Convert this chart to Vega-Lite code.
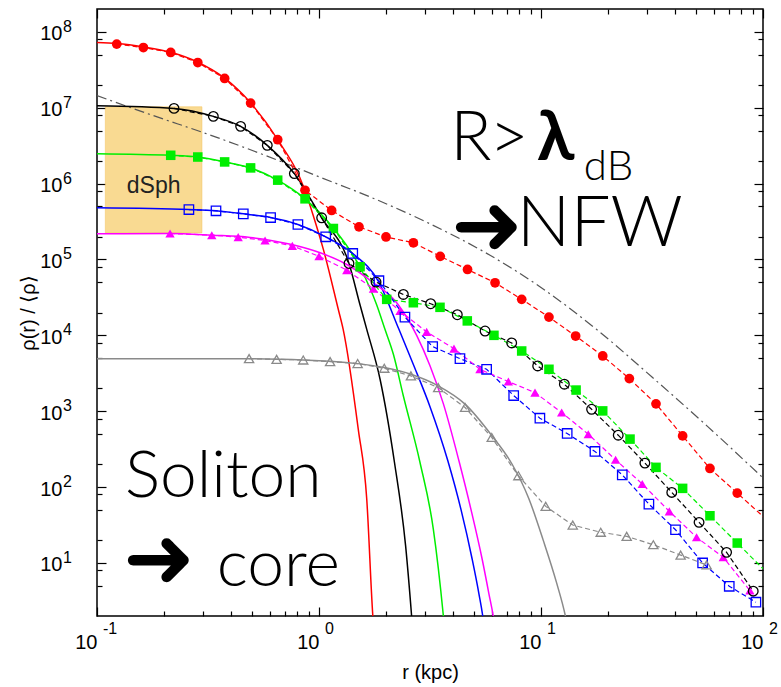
{
  "$schema": "https://vega.github.io/schema/vega-lite/v6.json",
  "width": 666,
  "height": 607,
  "autosize": {"type": "none"},
  "padding": {"left": 97, "top": 9, "right": 18, "bottom": 71},
  "background": "white",
  "config": {
    "view": {"stroke": "#000000", "strokeWidth": 1.5},
    "axis": {"grid": false, "domain": false, "tickColor": "#000000", "tickWidth": 1.2, "labelColor": "#000000", "titleColor": "#000000", "labelFont": "Liberation Sans", "titleFont": "Liberation Sans", "titleFontWeight": "normal"}
  },
  "datasets": {
    "pts": [
      {"s":"h1","r":0.1227,"rho":6.89e7},{"s":"h1","r":0.1618,"rho":6.21e7},{"s":"h1","r":0.2148,"rho":5.35e7},{"s":"h1","r":0.2844,"rho":3.94e7},{"s":"h1","r":0.3758,"rho":2.43e7},{"s":"h1","r":0.492,"rho":1.15e7},{"s":"h1","r":0.6516,"rho":3.79e6},{"s":"h1","r":0.865,"rho":8.17e5},{"s":"h1","r":1.14,"rho":4.42e5},{"s":"h1","r":1.514,"rho":2.69e5},{"s":"h1","r":2.004,"rho":1.98e5},{"s":"h1","r":2.661,"rho":1.66e5},{"s":"h1","r":3.516,"rho":1.10e5},{"s":"h1","r":4.667,"rho":7.38e4},{"s":"h1","r":6.209,"rho":4.93e4},{"s":"h1","r":8.185,"rho":2.98e4},{"s":"h1","r":10.86,"rho":1.74e4},{"s":"h1","r":14.32,"rho":9.8e3},{"s":"h1","r":18.97,"rho":5.35e3},{"s":"h1","r":25.0,"rho":2.69e3},{"s":"h1","r":32.96,"rho":1.25e3},{"s":"h1","r":43.45,"rho":473},{"s":"h1","r":57.68,"rho":176},{"s":"h1","r":76.56,"rho":83.4},{"s":"h1","r":109.9,"rho":32.1},
      {"s":"h2","r":0.2223,"rho":9.8e6},{"s":"h2","r":0.3342,"rho":7.69e6},{"s":"h2","r":0.4436,"rho":5.68e6},{"s":"h2","r":0.5848,"rho":3.19e6},{"s":"h2","r":0.7745,"rho":1.355e6},{"s":"h2","r":1.028,"rho":3.54e5},{"s":"h2","r":1.365,"rho":8.85e4},{"s":"h2","r":1.807,"rho":5.04e4},{"s":"h2","r":2.399,"rho":3.46e4},{"s":"h2","r":3.184,"rho":2.61e4},{"s":"h2","r":4.198,"rho":1.87e4},{"s":"h2","r":5.598,"rho":1.14e4},{"s":"h2","r":7.379,"rho":7.94e3},{"s":"h2","r":9.661,"rho":3.95e3},{"s":"h2","r":12.74,"rho":2.27e3},{"s":"h2","r":16.9,"rho":1.06e3},{"s":"h2","r":22.28,"rho":483},{"s":"h2","r":29.38,"rho":207},{"s":"h2","r":38.82,"rho":85.1},{"s":"h2","r":51.52,"rho":34.3},{"s":"h2","r":68.55,"rho":13.8},{"s":"h2","r":90.36,"rho":4.25},
      {"s":"h3","r":0.2148,"rho":2.36e6},{"s":"h3","r":0.2844,"rho":2.24e6},{"s":"h3","r":0.3758,"rho":1.93e6},{"s":"h3","r":0.492,"rho":1.61e6},{"s":"h3","r":0.6516,"rho":1.11e6},{"s":"h3","r":0.865,"rho":6.3e5},{"s":"h3","r":1.161,"rho":2.56e5},{"s":"h3","r":1.531,"rho":8.02e4},{"s":"h3","r":2.018,"rho":2.98e4},{"s":"h3","r":2.661,"rho":2.69e4},{"s":"h3","r":3.508,"rho":2.34e4},{"s":"h3","r":4.656,"rho":1.55e4},{"s":"h3","r":6.138,"rho":1.0e4},{"s":"h3","r":8.185,"rho":6.22e3},{"s":"h3","r":10.86,"rho":3.57e3},{"s":"h3","r":14.39,"rho":1.9e3},{"s":"h3","r":18.97,"rho":1.01e3},{"s":"h3","r":25.18,"rho":429},{"s":"h3","r":32.96,"rho":182},{"s":"h3","r":43.45,"rho":96.2},{"s":"h3","r":57.68,"rho":41.9},{"s":"h3","r":76.56,"rho":18.3},{"s":"h3","r":109.9,"rho":6.38},
      {"s":"h4","r":0.2594,"rho":4.55e5},{"s":"h4","r":0.3436,"rho":4.38e5},{"s":"h4","r":0.456,"rho":3.99e5},{"s":"h4","r":0.6053,"rho":3.57e5},{"s":"h4","r":0.8035,"rho":2.89e5},{"s":"h4","r":1.072,"rho":1.99e5},{"s":"h4","r":1.419,"rho":1.2e5},{"s":"h4","r":1.862,"rho":5.25e4},{"s":"h4","r":2.438,"rho":1.74e4},{"s":"h4","r":3.251,"rho":7.1e3},{"s":"h4","r":4.315,"rho":4.93e3},{"s":"h4","r":5.689,"rho":3.57e3},{"s":"h4","r":7.534,"rho":1.61e3},{"s":"h4","r":9.886,"rho":809},{"s":"h4","r":13.12,"rho":509},{"s":"h4","r":17.5,"rho":295},{"s":"h4","r":23.23,"rho":145},{"s":"h4","r":30.62,"rho":59.7},{"s":"h4","r":40.36,"rho":27.4},{"s":"h4","r":53.46,"rho":10.0},{"s":"h4","r":70.47,"rho":4.93},{"s":"h4","r":92.9,"rho":3.04},
      {"s":"h5","r":0.2133,"rho":2.2e5},{"s":"h5","r":0.3289,"rho":2.09e5},{"s":"h5","r":0.4325,"rho":1.97e5},{"s":"h5","r":0.5715,"rho":1.78e5},{"s":"h5","r":0.7586,"rho":1.51e5},{"s":"h5","r":1.0,"rho":1.1e5},{"s":"h5","r":1.334,"rho":7.24e4},{"s":"h5","r":1.758,"rho":4.11e4},{"s":"h5","r":2.317,"rho":2.09e4},{"s":"h5","r":3.055,"rho":1.11e4},{"s":"h5","r":4.055,"rho":6.68e3},{"s":"h5","r":5.309,"rho":3.57e3},{"s":"h5","r":7.129,"rho":2.46e3},{"s":"h5","r":9.397,"rho":1.76e3},{"s":"h5","r":12.39,"rho":962},{"s":"h5","r":16.33,"rho":498},{"s":"h5","r":21.68,"rho":229},{"s":"h5","r":28.58,"rho":110},{"s":"h5","r":37.84,"rho":47.9},{"s":"h5","r":50.23,"rho":21.8},{"s":"h5","r":66.22,"rho":11.9},{"s":"h5","r":87.3,"rho":4.33},
      {"s":"h6","r":0.4842,"rho":4.93e3},{"s":"h6","r":0.6442,"rho":4.83e3},{"s":"h6","r":0.8492,"rho":4.73e3},{"s":"h6","r":1.122,"rho":4.51e3},{"s":"h6","r":1.493,"rho":4.25e3},{"s":"h6","r":1.968,"rho":3.68e3},{"s":"h6","r":2.594,"rho":2.92e3},{"s":"h6","r":3.443,"rho":2.05e3},{"s":"h6","r":4.55,"rho":1.12e3},{"s":"h6","r":5.998,"rho":451},{"s":"h6","r":7.907,"rho":141},{"s":"h6","r":10.5,"rho":55.7},{"s":"h6","r":13.9,"rho":31.6},{"s":"h6","r":18.58,"rho":25.4},{"s":"h6","r":24.32,"rho":22.4},{"s":"h6","r":32.06,"rho":17.4},{"s":"h6","r":42.56,"rho":12.7},{"s":"h6","r":55.72,"rho":9.42}
    ],
    "fit": [
      {"s":"h1","r":0.1,"rho":7.24e7},{"s":"h1","r":0.1227,"rho":7.0e7},{"s":"h1","r":0.1618,"rho":6.31e7},{"s":"h1","r":0.2148,"rho":5.37e7},{"s":"h1","r":0.2844,"rho":3.98e7},{"s":"h1","r":0.3758,"rho":2.455e7},{"s":"h1","r":0.492,"rho":1.16e7},{"s":"h1","r":0.6516,"rho":3.8e6},{"s":"h1","r":0.865,"rho":8.13e5},{"s":"h1","r":0.9441,"rho":3.72e5},{"s":"h1","r":1.047,"rho":1.35e5},{"s":"h1","r":1.222,"rho":2.19e4},{"s":"h1","r":1.285,"rho":1.2e4},{"s":"h1","r":1.503,"rho":575},{"s":"h1","r":1.641,"rho":69.2},{"s":"h1","r":1.746,"rho":2.09},{"s":"h1","r":1.778,"rho":1.0},
      {"s":"h2","r":0.1,"rho":1.06e7},{"s":"h2","r":0.2223,"rho":9.77e6},{"s":"h2","r":0.3342,"rho":7.69e6},{"s":"h2","r":0.4436,"rho":5.68e6},{"s":"h2","r":0.5848,"rho":3.19e6},{"s":"h2","r":0.7745,"rho":1.355e6},{"s":"h2","r":1.028,"rho":3.54e5},{"s":"h2","r":1.365,"rho":8.85e4},{"s":"h2","r":1.531,"rho":2.51e4},{"s":"h2","r":1.641,"rho":1.2e4},{"s":"h2","r":1.884,"rho":2.64e3},{"s":"h2","r":2.188,"rho":211},{"s":"h2","r":2.455,"rho":16.9},{"s":"h2","r":2.612,"rho":2.03},{"s":"h2","r":2.661,"rho":1.0},
      {"s":"h3","r":0.1,"rho":2.48e6},{"s":"h3","r":0.2148,"rho":2.36e6},{"s":"h3","r":0.2844,"rho":2.24e6},{"s":"h3","r":0.3758,"rho":1.93e6},{"s":"h3","r":0.492,"rho":1.61e6},{"s":"h3","r":0.6516,"rho":1.11e6},{"s":"h3","r":0.865,"rho":6.3e5},{"s":"h3","r":1.161,"rho":2.59e5},{"s":"h3","r":1.531,"rho":7.89e4},{"s":"h3","r":1.82,"rho":2.51e4},{"s":"h3","r":1.982,"rho":1.2e4},{"s":"h3","r":2.163,"rho":5.62e3},{"s":"h3","r":2.399,"rho":1585},{"s":"h3","r":2.851,"rho":211},{"s":"h3","r":3.273,"rho":28.0},{"s":"h3","r":3.631,"rho":2.03},{"s":"h3","r":3.715,"rho":1.0},
      {"s":"h4","r":0.1,"rho":4.79e5},{"s":"h4","r":0.2594,"rho":4.55e5},{"s":"h4","r":0.3436,"rho":4.38e5},{"s":"h4","r":0.456,"rho":3.99e5},{"s":"h4","r":0.6053,"rho":3.57e5},{"s":"h4","r":0.8035,"rho":2.89e5},{"s":"h4","r":1.072,"rho":1.99e5},{"s":"h4","r":1.419,"rho":1.2e5},{"s":"h4","r":1.849,"rho":5.19e4},{"s":"h4","r":2.291,"rho":1.2e4},{"s":"h4","r":2.692,"rho":3.8e3},{"s":"h4","r":3.162,"rho":1148},{"s":"h4","r":3.802,"rho":224},{"s":"h4","r":4.365,"rho":50.1},{"s":"h4","r":4.898,"rho":11.2},{"s":"h4","r":5.248,"rho":3.98},{"s":"h4","r":5.495,"rho":1.78},{"s":"h4","r":5.623,"rho":1.0},
      {"s":"h5","r":0.1,"rho":2.18e5},{"s":"h5","r":0.2133,"rho":2.2e5},{"s":"h5","r":0.3289,"rho":2.09e5},{"s":"h5","r":0.4898,"rho":1.95e5},{"s":"h5","r":0.7534,"rho":1.574e5},{"s":"h5","r":1.012,"rho":1.225e5},{"s":"h5","r":1.334,"rho":8.59e4},{"s":"h5","r":1.758,"rho":4.93e4},{"s":"h5","r":2.239,"rho":2.69e4},{"s":"h5","r":2.754,"rho":1.0e4},{"s":"h5","r":3.162,"rho":3.98e3},{"s":"h5","r":3.631,"rho":1259},{"s":"h5","r":4.266,"rho":224},{"s":"h5","r":4.842,"rho":50.1},{"s":"h5","r":5.433,"rho":11.2},{"s":"h5","r":5.821,"rho":3.98},{"s":"h5","r":6.124,"rho":1.78},{"s":"h5","r":6.266,"rho":1.0},
      {"s":"h6","r":0.1,"rho":4.93e3},{"s":"h6","r":0.4842,"rho":4.93e3},{"s":"h6","r":1.122,"rho":4.57e3},{"s":"h6","r":1.968,"rho":3.76e3},{"s":"h6","r":2.594,"rho":3.07e3},{"s":"h6","r":3.443,"rho":2.16e3},{"s":"h6","r":4.55,"rho":1.24e3},{"s":"h6","r":5.998,"rho":479},{"s":"h6","r":7.413,"rho":200},{"s":"h6","r":8.81,"rho":70.8},{"s":"h6","r":10.23,"rho":20.0},{"s":"h6","r":11.75,"rho":5.5},{"s":"h6","r":12.88,"rho":2.0},{"s":"h6","r":13.49,"rho":1.0}
    ],
    "nfw": [
      {"r":0.1,"rho":1.445e7},{"r":0.1778,"rho":7.94e6},{"r":0.3162,"rho":4.47e6},{"r":0.5623,"rho":2.4e6},{"r":1.0,"rho":1.23e6},{"r":1.778,"rho":6.31e5},{"r":3.162,"rho":2.95e5},{"r":5.623,"rho":1.23e5},{"r":10,"rho":4.27e4},{"r":17.78,"rho":1.2e4},{"r":31.62,"rho":2.82e3},{"r":56.23,"rho":631},{"r":100,"rho":132}
    ],
    "dsph": [{"r1":0.109,"r2":0.297,"rho1":2.24e5,"rho2":1.03e7,"label":"dSph"}],
    "xexp": [{"r":0.1,"e":"-1"},{"r":1,"e":"0"},{"r":10,"e":"1"},{"r":100,"e":"2"}],
    "yexp": [{"rho":10,"e":"1"},{"rho":100,"e":"2"},{"rho":1000,"e":"3"},{"rho":10000,"e":"4"},{"rho":100000,"e":"5"},{"rho":1000000,"e":"6"},{"rho":10000000,"e":"7"},{"rho":100000000,"e":"8"}]
  },
  "resolve": {"axis": {"x": "independent", "y": "independent"}},
  "layer": [
    {
      "data": {"name": "dsph"},
      "mark": {"type": "rect", "fill": "#F9DA92", "stroke": "#F5C35A", "strokeWidth": 0.5},
      "encoding": {
        "x": {"field": "r1", "type": "quantitative", "scale": {"type": "log", "domain": [0.1, 100], "nice": false}, "axis": null},
        "x2": {"field": "r2"},
        "y": {"field": "rho1", "type": "quantitative", "scale": {"type": "log", "domain": [2, 2e8], "nice": false}, "axis": null},
        "y2": {"field": "rho2"}
      }
    },
    {
      "data": {"name": "dsph"},
      "mark": {"type": "text", "font": "Liberation Sans", "fontSize": 23, "color": "#222222", "align": "center", "baseline": "middle"},
      "encoding": {
        "x": {"datum": 0.18, "type": "quantitative", "axis": null},
        "y": {"datum": 9.4e5, "type": "quantitative", "axis": null},
        "text": {"field": "label"}
      }
    },
    {
      "data": {"name": "nfw"},
      "mark": {"type": "line", "color": "#555555", "strokeWidth": 1.2, "strokeDash": [10, 4, 2, 4], "interpolate": "monotone", "clip": true},
      "encoding": {
        "x": {"field": "r", "type": "quantitative", "scale": {"type": "log", "domain": [0.1, 100], "nice": false},
          "axis": {"orient": "top", "values": [0.1,0.2,0.3,0.4,0.5,0.6,0.7,0.8,0.9,1,2,3,4,5,6,7,8,9,10,20,30,40,50,60,70,80,90,100], "labels": false, "title": null,
            "tickSize": {"condition": {"test": "abs(log(datum.value)/LN10 - round(log(datum.value)/LN10)) < 0.001", "value": -9}, "value": -5}}},
        "y": {"field": "rho", "type": "quantitative", "scale": {"type": "log", "domain": [2, 2e8], "nice": false},
          "axis": {"orient": "right", "values": [5,8,10,20,50,80,100,200,500,800,1000,2000,5000,8000,10000,20000,50000,80000,100000,200000,500000,800000,1000000,2000000,5000000,8000000,10000000,20000000,50000000,80000000,100000000], "labels": false, "title": null,
            "tickSize": {"condition": {"test": "abs(log(datum.value)/LN10 - round(log(datum.value)/LN10)) < 0.001", "value": -9}, "value": -5}}}
      }
    },
    {
      "data": {"name": "fit"},
      "mark": {"type": "line", "strokeWidth": 1.5, "interpolate": "monotone", "clip": true},
      "encoding": {
        "x": {"field": "r", "type": "quantitative", "scale": {"type": "log", "domain": [0.1, 100], "nice": false},
          "axis": {"orient": "bottom", "values": [0.1,0.2,0.3,0.4,0.5,0.6,0.7,0.8,0.9,1,2,3,4,5,6,7,8,9,10,20,30,40,50,60,70,80,90,100],
            "labelExpr": "abs(log(datum.value)/LN10 - round(log(datum.value)/LN10)) < 0.001 ? '10' : ''",
            "tickSize": {"condition": {"test": "abs(log(datum.value)/LN10 - round(log(datum.value)/LN10)) < 0.001", "value": -9}, "value": -5},
            "labelFontSize": 20, "labelPadding": 25, "labelFlush": false, "labelOverlap": false, "labelAlign": "right", "labelDx": 4,
            "title": "r (kpc)", "titleFontSize": 20, "titleY": 56, "titleBaseline": "middle"}},
        "y": {"field": "rho", "type": "quantitative", "scale": {"type": "log", "domain": [2, 2e8], "nice": false},
          "axis": {"orient": "left", "values": [5,8,10,20,50,80,100,200,500,800,1000,2000,5000,8000,10000,20000,50000,80000,100000,200000,500000,800000,1000000,2000000,5000000,8000000,10000000,20000000,50000000,80000000,100000000],
            "labelExpr": "abs(log(datum.value)/LN10 - round(log(datum.value)/LN10)) < 0.001 ? '10' : ''",
            "tickSize": {"condition": {"test": "abs(log(datum.value)/LN10 - round(log(datum.value)/LN10)) < 0.001", "value": -9}, "value": -5},
            "labelFontSize": 20, "labelPadding": 44, "labelBaseline": "middle", "labelOffset": 2, "labelOverlap": false, "labelFlush": false,
            "title": "ρ(r) / ⟨ρ⟩", "titleFontSize": 20, "titleX": -69, "titleY": 303.5, "titleAngle": -90, "titleBaseline": "middle", "titleAlign": "center"}},
        "color": {"field": "s", "type": "nominal", "scale": {"domain": ["h1","h2","h3","h4","h5","h6"], "range": ["#ff0000","#000000","#00ee00","#0000ff","#ff00ff","#8a8a8a"]}, "legend": null},
        "detail": {"field": "s"}
      }
    },
    {
      "data": {"name": "pts"},
      "mark": {"type": "line", "strokeWidth": 1.2, "strokeDash": [5, 3], "clip": true},
      "encoding": {
        "x": {"field": "r", "type": "quantitative", "axis": null},
        "y": {"field": "rho", "type": "quantitative", "axis": null},
        "color": {"field": "s", "type": "nominal", "legend": null},
        "detail": {"field": "s"}
      }
    },
    {
      "data": {"name": "pts"},
      "transform": [{"filter": {"field": "s", "oneOf": ["h1", "h3", "h5"]}}],
      "mark": {"type": "point", "filled": true, "opacity": 1, "clip": true},
      "encoding": {
        "x": {"field": "r", "type": "quantitative", "axis": null},
        "y": {"field": "rho", "type": "quantitative", "axis": null},
        "color": {"field": "s", "type": "nominal", "legend": null},
        "shape": {"field": "s", "type": "nominal", "scale": {"domain": ["h1","h2","h3","h4","h5","h6"], "range": ["circle","circle","square","square","triangle-up","triangle-up"]}, "legend": null},
        "size": {"field": "s", "type": "nominal", "scale": {"domain": ["h1","h2","h3","h4","h5","h6"], "range": [95, 85, 80, 100, 65, 85]}, "legend": null}
      }
    },
    {
      "data": {"name": "pts"},
      "transform": [{"filter": {"field": "s", "oneOf": ["h2", "h4", "h6"]}}],
      "mark": {"type": "point", "filled": false, "opacity": 1, "strokeWidth": 1.3, "clip": true},
      "encoding": {
        "x": {"field": "r", "type": "quantitative", "axis": null},
        "y": {"field": "rho", "type": "quantitative", "axis": null},
        "color": {"field": "s", "type": "nominal", "legend": null},
        "shape": {"field": "s", "type": "nominal", "legend": null},
        "size": {"field": "s", "type": "nominal", "legend": null}
      }
    },
    {
      "data": {"name": "xexp"},
      "mark": {"type": "text", "font": "Liberation Sans", "fontSize": 16, "align": "left", "baseline": "middle", "dx": 6, "dy": 13, "color": "#000000"},
      "encoding": {
        "x": {"field": "r", "type": "quantitative", "axis": null},
        "y": {"datum": 2, "type": "quantitative", "axis": null},
        "text": {"field": "e"}
      }
    },
    {
      "data": {"name": "yexp"},
      "mark": {"type": "text", "font": "Liberation Sans", "fontSize": 16, "align": "left", "baseline": "middle", "dx": -34, "dy": -5, "color": "#000000"},
      "encoding": {
        "x": {"datum": 0.1, "type": "quantitative", "axis": null},
        "y": {"field": "rho", "type": "quantitative", "axis": null},
        "text": {"field": "e"}
      }
    },
    {
      "data": {"values": [{}]},
      "mark": {"type": "text", "text": "Soliton", "font": "Lato", "fontWeight": 300, "fontSize": 66, "align": "left", "baseline": "alphabetic", "color": "#000000"},
      "encoding": {"x": {"datum": 0.1336, "type": "quantitative", "axis": null}, "y": {"datum": 73.8, "type": "quantitative", "axis": null}}
    },
    {
      "data": {"values": [{}]},
      "mark": {"type": "text", "text": "➜", "font": "DejaVu Sans", "fontSize": 86, "align": "left", "baseline": "middle", "color": "#000000"},
      "encoding": {"x": {"datum": 0.131, "type": "quantitative", "axis": null}, "y": {"datum": 10.5, "type": "quantitative", "axis": null}}
    },
    {
      "data": {"values": [{}]},
      "mark": {"type": "text", "text": "core", "font": "Lato", "fontWeight": 300, "fontSize": 66, "align": "left", "baseline": "alphabetic", "color": "#000000"},
      "encoding": {"x": {"datum": 0.346, "type": "quantitative", "axis": null}, "y": {"datum": 5.02, "type": "quantitative", "axis": null}}
    },
    {
      "data": {"values": [{}]},
      "mark": {"type": "text", "text": "R", "font": "Lato", "fontWeight": 300, "fontSize": 68, "align": "left", "baseline": "alphabetic", "color": "#000000"},
      "encoding": {"x": {"datum": 3.9, "type": "quantitative", "axis": null}, "y": {"datum": 2.07e6, "type": "quantitative", "axis": null}}
    },
    {
      "data": {"values": [{}]},
      "mark": {"type": "text", "text": ">", "font": "Lato", "fontWeight": 300, "fontSize": 68, "align": "left", "baseline": "alphabetic", "color": "#000000"},
      "encoding": {"x": {"datum": 5.85, "type": "quantitative", "axis": null}, "y": {"datum": 2.07e6, "type": "quantitative", "axis": null}}
    },
    {
      "data": {"values": [{}]},
      "mark": {"type": "text", "text": "λ", "font": "Lato", "fontWeight": "bold", "fontSize": 68, "align": "left", "baseline": "alphabetic", "color": "#000000"},
      "encoding": {"x": {"datum": 9.6, "type": "quantitative", "axis": null}, "y": {"datum": 2.07e6, "type": "quantitative", "axis": null}}
    },
    {
      "data": {"values": [{}]},
      "mark": {"type": "text", "text": "dB", "font": "Lato", "fontWeight": 300, "fontSize": 42, "align": "left", "baseline": "alphabetic", "color": "#000000"},
      "encoding": {"x": {"datum": 15.6, "type": "quantitative", "axis": null}, "y": {"datum": 1.13e6, "type": "quantitative", "axis": null}}
    },
    {
      "data": {"values": [{}]},
      "mark": {"type": "text", "text": "➜", "font": "DejaVu Sans", "fontSize": 86, "align": "left", "baseline": "middle", "color": "#000000"},
      "encoding": {"x": {"datum": 3.93, "type": "quantitative", "axis": null}, "y": {"datum": 2.6e5, "type": "quantitative", "axis": null}}
    },
    {
      "data": {"values": [{}]},
      "mark": {"type": "text", "text": "NFW", "font": "Lato", "fontWeight": 300, "fontSize": 71, "align": "left", "baseline": "alphabetic", "color": "#000000"},
      "encoding": {"x": {"datum": 7.78, "type": "quantitative", "axis": null}, "y": {"datum": 1.5e5, "type": "quantitative", "axis": null}}
    }
  ]
}
